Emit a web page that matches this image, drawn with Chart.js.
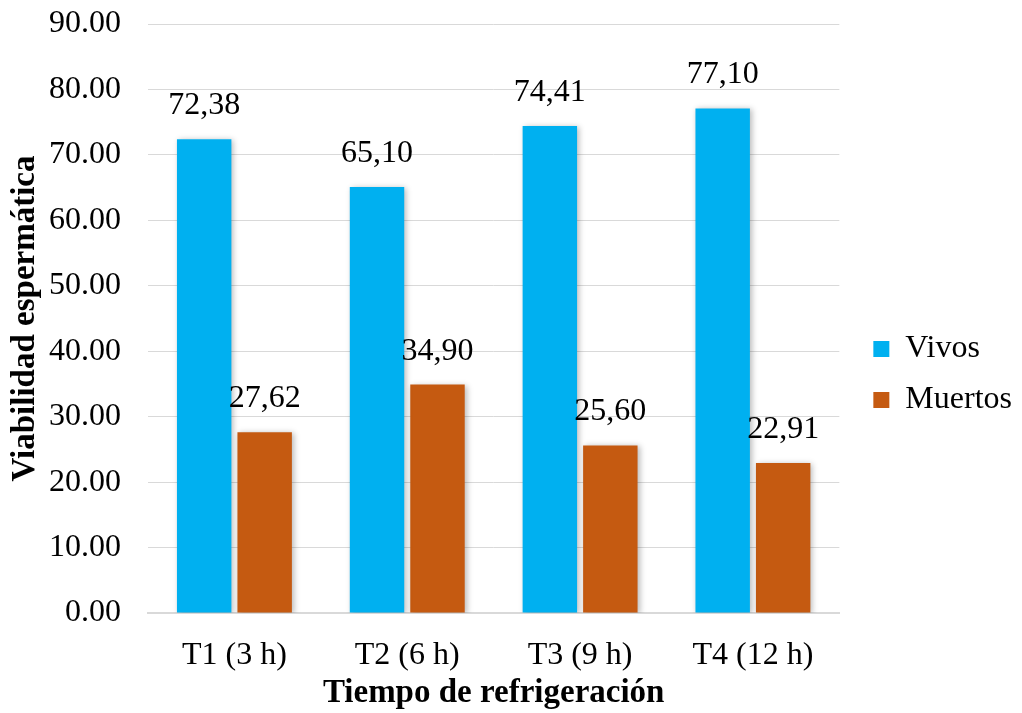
<!DOCTYPE html>
<html>
<head>
<meta charset="utf-8">
<script src="https://cdn.jsdelivr.net/npm/chart.js@4"></script>
<style>
  html, body { margin: 0; padding: 0; background: #fff; }
  #wrap { width: 1022px; height: 713px; }
</style>
</head>
<body>
<div id="wrap"><canvas id="myChart"></canvas></div>
<script>
'use strict';

const categories = ['T1 (3 h)', 'T2 (6 h)', 'T3 (9 h)', 'T4 (12 h)'];
const vivos = [72.38, 65.10, 74.41, 77.10];
const muertos = [27.62, 34.90, 25.60, 22.91];
const seriesNames = ['Vivos', 'Muertos'];
const seriesColors = ['#00B0F0', '#C55A11'];

const FONT = "'Liberation Serif', 'Times New Roman', serif";

// soft shadow behind bars, like the Excel original
const barShadow = {
  id: 'barShadow',
  beforeDatasetsDraw(chart) {
    const ctx = chart.ctx;
    ctx.save();
    ctx.shadowColor = 'rgba(0,0,0,0.28)';
    ctx.shadowBlur = 6;
    ctx.shadowOffsetX = 2;
    ctx.shadowOffsetY = 1;
  },
  afterDatasetsDraw(chart) {
    chart.ctx.restore();
  },
};

// value labels above each bar, decimal comma
const valueLabels = {
  id: 'valueLabels',
  afterDatasetsDraw(chart) {
    const ctx = chart.ctx;
    ctx.save();
    ctx.font = '32px ' + FONT;
    ctx.fillStyle = '#000';
    ctx.textAlign = 'center';
    ctx.textBaseline = 'alphabetic';
    chart.data.datasets.forEach((ds, i) => {
      const meta = chart.getDatasetMeta(i);
      meta.data.forEach((bar, j) => {
        const txt = ds.data[j].toFixed(2).replace('.', ',');
        ctx.fillText(txt, bar.x, bar.y - 25);
      });
    });
    ctx.restore();
  },
};

new Chart(document.getElementById('myChart'), {
  type: 'bar',
  data: {
    labels: categories,
    datasets: [
      {
        label: seriesNames[0],
        data: vivos,
        backgroundColor: seriesColors[0],
        categoryPercentage: 0.7,
        barPercentage: 0.9,
      },
      {
        label: seriesNames[1],
        data: muertos,
        backgroundColor: seriesColors[1],
        categoryPercentage: 0.7,
        barPercentage: 0.9,
      },
    ],
  },
  options: {
    responsive: true,
    maintainAspectRatio: false,
    animation: false,
    layout: { padding: { left: 0, right: 0, top: 24, bottom: 0 } },
    plugins: {
      tooltip: { enabled: false },
      legend: {
        position: 'right',
        // blank title only nudges the items down a little
        title: {
          display: true,
          text: ' ',
          font: { family: FONT, size: 10 },
          padding: 0,
        },
        labels: {
          font: { family: FONT, size: 32 },
          color: '#000',
          boxWidth: 16,
          boxHeight: 16,
          padding: 19,
        },
      },
    },
    scales: {
      x: {
        grid: { display: false, drawTicks: false },
        border: { color: '#d9d9d9', width: 2 },
        ticks: {
          font: { family: FONT, size: 32 },
          color: '#000',
          padding: 23,
        },
        title: {
          display: true,
          text: 'Tiempo de refrigeración',
          font: { family: FONT, size: 33, weight: 'bold' },
          color: '#000',
          padding: { top: 0, bottom: 0 },
        },
        afterFit(scale) {
          scale.height = 100;
        },
      },
      y: {
        min: 0,
        max: 90,
        grid: { color: '#d9d9d9', drawTicks: false },
        border: { display: false },
        ticks: {
          stepSize: 10,
          font: { family: FONT, size: 32 },
          color: '#000',
          padding: 27,
          callback: function (value) {
            return value.toFixed(2);
          },
        },
        title: {
          display: true,
          text: 'Viabilidad espermática',
          font: { family: FONT, size: 33, weight: 'bold' },
          color: '#000',
          padding: { top: 6, bottom: 0 },
        },
        afterFit(scale) {
          scale.width = 148;
          scale.paddingTop = 0;
          scale.paddingBottom = 0;
        },
      },
      // empty spacer between plot and legend
      gap: {
        type: 'linear',
        position: 'right',
        grid: { display: false, drawTicks: false },
        border: { display: false },
        ticks: { display: false },
        afterFit(scale) {
          scale.width = 15;
          scale.paddingTop = 0;
          scale.paddingBottom = 0;
        },
      },
    },
  },
  plugins: [barShadow, valueLabels],
});
</script>
</body>
</html>
